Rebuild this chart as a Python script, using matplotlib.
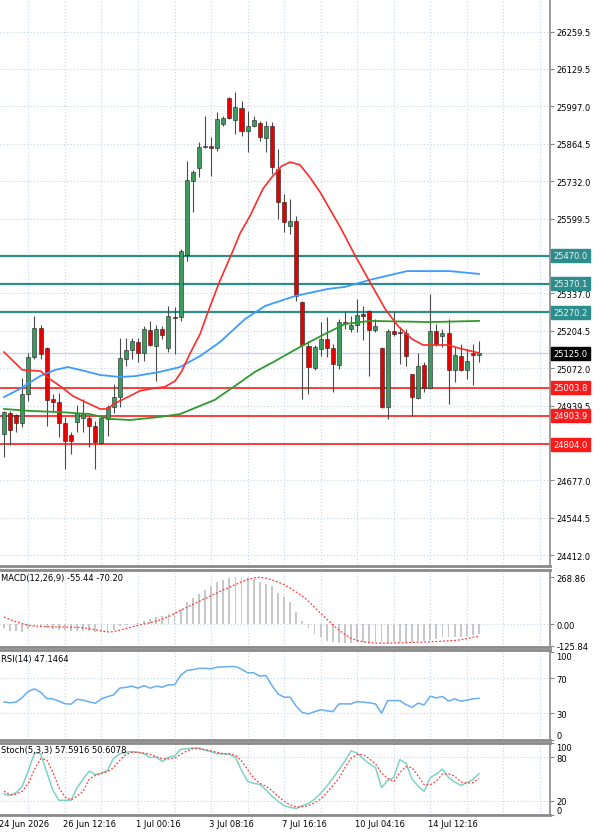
import matplotlib
matplotlib.use("Agg")
import matplotlib.pyplot as plt
import matplotlib.transforms as mtransforms
import numpy as np

# candles (4h bars)
opens = [24840, 24914, 24907, 24878, 24981, 25112, 25214, 25143, 24963, 24953,
         24878, 24836, 24882, 24896, 24896, 24868, 24808, 24893, 24935, 24970,
         25105, 25136, 25165, 25126, 25207, 25150, 25210, 25143, 25253, 25253,
         25472, 25733, 25779, 25853, 25857, 25850, 25935, 26026, 25949, 25991,
         25910, 25927, 25938, 25885, 25927, 25776, 25659, 25574, 25592, 25306,
         25150, 25073, 25140, 25175, 25143, 25083, 25235, 25210, 25225, 25263,
         25274, 25207, 25143, 24935, 25203, 25200, 25196, 25052, 24967, 25083,
         25002, 25203, 25186, 25196, 25066, 25115, 25066, 25126, 25119]
highs = [24921, 24921, 24910, 25037, 25126, 25256, 25225, 25147, 24981, 24984,
         24900, 24847, 24942, 24963, 24903, 24886, 24900, 24942, 25016, 25179,
         25179, 25179, 25179, 25221, 25239, 25225, 25221, 25292, 25288, 25493,
         25804, 25772, 25871, 25963, 25889, 25977, 25963, 26030, 26048, 26016,
         25980, 25963, 25945, 25945, 25942, 25846, 25687, 25670, 25610, 25309,
         25168, 25154, 25235, 25253, 25158, 25246, 25274, 25256, 25316, 25292,
         25278, 25246, 25147, 25210, 25271, 25218, 25210, 25053, 25126, 25094,
         25334, 25228, 25210, 25246, 25147, 25158, 25140, 25158, 25168]
lows = [24758, 24801, 24847, 24864, 24956, 25105, 25105, 24868, 24917, 24829,
        24716, 24769, 24847, 24847, 24794, 24716, 24804, 24833, 24914, 24935,
        25080, 25105, 25094, 25097, 25150, 25027, 25175, 25129, 25122, 25239,
        25451, 25624, 25747, 25850, 25751, 25839, 25927, 25952, 25899, 25892,
        25836, 25924, 25875, 25836, 25758, 25599, 25553, 25546, 25309, 24963,
        24981, 25066, 25115, 25112, 24988, 25069, 25210, 25200, 25200, 25172,
        25044, 25200, 24932, 24893, 25186, 25087, 25080, 24903, 24963, 24988,
        24999, 25150, 25147, 24946, 25023, 25062, 25034, 25013, 25094]
closes = [24917, 24854, 24878, 24981, 25112, 25214, 25122, 24960, 24953, 24878,
          24815, 24815, 24914, 24910, 24868, 24811, 24896, 24935, 24970, 25108,
          25136, 25168, 25126, 25210, 25154, 25210, 25189, 25256, 25251, 25486,
          25737, 25765, 25853, 25857, 25850, 25952, 25956, 25956, 25995, 25910,
          25927, 25949, 25889, 25927, 25783, 25659, 25588, 25592, 25327, 25154,
          25076, 25147, 25175, 25143, 25087, 25235, 25232, 25225, 25260, 25256,
          25207, 25221, 24935, 25203, 25193, 25196, 25115, 24970, 25080, 25002,
          25203, 25158, 25196, 25066, 25119, 25066, 25097, 25119, 25125]

# moving averages, sampled along the lines (bar position, price)
red_ma_x = [0, 3, 6, 7.5, 9.2, 11.3, 13, 15.8, 17, 18, 20.7, 22.3, 24.8, 26.4, 28.1,
            29.2, 30.5, 32.2, 33.5, 35.3, 37.3, 38.8, 40.4, 42.5, 44, 45.6, 47, 48.6,
            50.2, 51.9, 53.5, 55.2, 57.6, 60.1, 62.6, 64.7, 67, 68.8, 70.3, 72.9, 75.2, 78]
red_ma = [25129, 25066, 25062, 25034, 25009, 24974, 24956, 24928, 24928, 24946, 24974,
          24992, 25002, 25006, 25027, 25062, 25122, 25193, 25271, 25373, 25472, 25550,
          25610, 25705, 25747, 25786, 25800, 25790, 25747, 25694, 25634, 25571, 25472,
          25376, 25281, 25221, 25175, 25154, 25154, 25154, 25140, 25126]
blue_ma_x = [0, 2.6, 5.9, 8.4, 10.5, 12.5, 15.8, 19, 21.5, 25.6, 28.9, 32.2, 35.5, 39.6,
             42.9, 47.8, 53.2, 56, 60.1, 63.4, 66.2, 73.2, 78]
blue_ma = [24970, 24999, 25044, 25066, 25076, 25066, 25048, 25041, 25044, 25059, 25076,
           25115, 25165, 25246, 25292, 25327, 25352, 25359, 25384, 25401, 25415, 25415, 25405]
green_ma_x = [0, 4.3, 9.2, 14.1, 17.4, 20.7, 25.6, 28.9, 32.2, 34.6, 37.9, 41.2, 44.5,
              48.6, 52.7, 56, 60.1, 70, 78]
green_ma = [24928, 24921, 24917, 24910, 24893, 24889, 24900, 24910, 24939, 24960, 25009,
            25059, 25097, 25147, 25193, 25228, 25239, 25235, 25239]

# indicators, one value per bar
macd_hist = [-23, -38, -38, -44, -30, -18, -15, -22, -28, -32,
             -36, -38, -38, -40, -42, -45, -47, -42, -35, -12,
             -5, 2, 8, 20, 29, 40, 47, 57, 69, 86,
             126, 150, 172, 196, 219, 240, 253, 262, 268.86, 266,
             262, 255, 243, 229, 215, 177, 152, 125, 70, 19,
             -23, -57, -75, -95, -105, -109, -109, -109, -105, -105,
             -101, -101, -109, -109, -105, -101, -101, -101, -95, -95,
             -90, -86, -76, -76, -76, -76, -67, -63, -55.44]
macd_signal = [40, 25, 12, 2, -8, -12, -14, -15, -16, -17,
               -17, -18, -19, -22, -27, -33, -40, -45, -44, -35,
               -26, -17, -8, 0, 8, 16, 28, 42, 60, 78,
               95, 112, 128, 145, 162, 178, 195, 210, 225, 242,
               255, 263, 268, 262, 252, 240, 225, 205, 182, 160,
               130, 95, 60, 28, -5, -35, -60, -82, -95, -102,
               -107, -109, -110, -110, -109, -108, -107, -105, -104, -103,
               -102, -100, -98, -96, -94, -90, -84, -76, -70.2]
rsi = [43, 42, 43, 48, 55, 57.8, 54, 47, 46.5, 44,
       41, 40.5, 46, 45, 43, 41.6, 46.5, 49, 51, 58.6,
       59.5, 60.8, 58.6, 61.5, 58.6, 60.8, 59.7, 62.3, 62.3, 73,
       78.5, 79.5, 81, 81, 80.5, 82.4, 82.5, 83, 83, 80,
       76, 76, 72.2, 72.9, 61.5, 52.1, 48.4, 48.4, 38, 31,
       29.5, 32, 34.3, 33, 32.1, 40.8, 40.8, 40.8, 43.4, 42.7,
       42, 40.8, 30.2, 44.5, 44.5, 44.5, 40, 37, 41.6, 39.7,
       49.5, 47.6, 49.1, 43.9, 46.5, 43.9, 45, 46.5, 47.15]
stoch_k = [29, 27, 31, 40, 62, 86, 85, 60, 35, 20.5,
           20.5, 20.5, 38, 50, 61, 56, 58, 62, 79, 85,
           87, 88, 87, 85, 79.7, 80.5, 74.2, 80.5, 82, 91,
           92, 93, 93, 90, 88, 85, 85, 84.5, 80, 62,
           47, 44, 42.5, 35, 26, 19, 13, 10.5, 9, 13,
           16, 22, 30, 40, 51, 63, 75, 89, 86, 78,
           71, 66, 38, 48, 52, 77, 72, 50, 40, 33,
           52, 57, 63.7, 52, 46, 41, 45, 49, 57.59]
stoch_d = [33, 28, 29, 33, 44, 63, 78, 77, 60, 38,
           25, 21, 26, 33, 50, 55, 58, 60, 66, 76,
           84, 87, 87, 86, 84, 81, 78, 78, 79, 84,
           89, 92, 92, 91, 89, 87, 85, 85, 83, 75,
           63, 51, 44, 40, 34, 26, 19, 14, 11, 11.5,
           13, 17, 22, 31, 41, 51, 66, 79, 84, 84,
           78, 71, 58, 51, 46, 59, 67, 66, 54, 42,
           42, 47, 57, 57, 54, 46, 44, 45, 50.61]

price_ticks = [26259.5, 26129.5, 25997.0, 25864.5, 25732.0, 25599.5, 25337.0,
               25204.5, 25072.0, 24939.5, 24677.0, 24544.5, 24412.0]
teal_levels = [25470.0, 25370.1, 25270.2]
red_levels = [25003.8, 24903.9, 24804.0]
last_price = 25125.0
date_pos = [-0.6, 10, 22, 34, 46, 58, 70]
date_labels = ["24 Jun 2026", "26 Jun 12:16", "1 Jul 00:16", "3 Jul 08:16",
               "7 Jul 16:16", "10 Jul 04:16", "14 Jul 12:16"]

GRID = "#c4d4e8"
DOT = (0, (1, 2))
TEAL = "#2d8c8c"
SEP = "#8a8a8a"
FS = 6

W, H = 600, 837
fig = plt.figure(figsize=(6, 8.37), dpi=100)
fig.patch.set_facecolor("white")


def panel(top, bottom):
    a = fig.add_axes([0, 1 - bottom / H, 550 / W, (bottom - top) / H])
    a.set_xlim(-0.66, 89.66)
    a.set_xticks([])
    for k in range(4, 90, 6):
        a.axvline(k, color=GRID, lw=0.8, ls=DOT, zorder=0)
    a.spines["left"].set_visible(False)
    a.spines["right"].set_color(SEP)
    a.spines["right"].set_linewidth(1.2)
    for s in ("top", "bottom"):
        a.spines[s].set_color(SEP)
        a.spines[s].set_linewidth(2)
    a.yaxis.tick_right()
    a.tick_params(axis="y", labelsize=FS, length=3, pad=1.5, color=SEP)
    return a


ax = panel(0, 567)
ax.spines["top"].set_visible(False)
ax_macd = panel(571, 648)
ax_rsi = panel(651, 741)
ax_st = panel(744, 816)

# ---- price panel
ax.set_ylim(24373.4, 26376)
ax.set_yticks(price_ticks)
ax.set_yticklabels([f"{t:.1f}" for t in price_ticks])
for t in price_ticks + [25467.0, 24807.0]:
    ax.axhline(t, color=GRID, lw=0.8, ls=DOT, zorder=0)
ax.axhline(last_price, color="#c9d5e6", lw=1.0, zorder=1)

trans = mtransforms.blended_transform_factory(ax.transAxes, ax.transData)
for v in teal_levels:
    ax.axhline(v, color=TEAL, lw=1.6, zorder=2)
    ax.text(1.006, v, f"{v:.1f}", transform=trans, fontsize=FS, color="#eaf6f6",
            va="center", ha="left", clip_on=False, zorder=10,
            bbox=dict(boxstyle="square,pad=0.25", fc=TEAL, ec=TEAL))
for v in red_levels:
    ax.axhline(v, color="#ff1a1a", lw=1.2, zorder=2)
    ax.text(1.006, v, f"{v:.1f}", transform=trans, fontsize=FS, color="white",
            va="center", ha="left", clip_on=False, zorder=10,
            bbox=dict(boxstyle="square,pad=0.25", fc="#ff1a1a", ec="#ff1a1a"))
ax.text(1.006, last_price, f"{last_price:.1f}", transform=trans, fontsize=FS,
        color="white", va="center", ha="left", clip_on=False, zorder=10,
        bbox=dict(boxstyle="square,pad=0.25", fc="black", ec="black"))

idx = np.arange(len(opens))
o = np.array(opens, dtype=float)
c = np.array(closes, dtype=float)
colors = np.where(c >= o, "#3c9a5f", "#e60000")
ax.vlines(idx, lows, highs, color="#4a4a4a", lw=0.8, zorder=3)
ax.bar(idx, np.maximum(np.abs(c - o), 3), bottom=np.minimum(o, c), width=0.66,
       color=colors, edgecolor="#222222", lw=0.4, zorder=4)

ax.plot(green_ma_x, green_ma, color="#2e9a2e", lw=1.3, zorder=5)
ax.plot(blue_ma_x, blue_ma, color="#3b9cff", lw=1.3, zorder=5)
ax.plot(red_ma_x, red_ma, color="#ff2a2a", lw=1.2, zorder=5)

# ---- MACD
ax_macd.set_ylim(-131.6, 309)
ax_macd.axhline(0, color=GRID, lw=0.8, ls=DOT, zorder=0)
ax_macd.bar(idx, macd_hist, width=0.3, color="#c8c8c8", zorder=2)
ax_macd.plot(idx, macd_signal, color="#ff3b3b", lw=0.9, ls=(0, (1.5, 1.5)), zorder=3)
ax_macd.set_yticks([268.86, 0, -125.84])
ax_macd.set_yticklabels(["268.86", "0.00", "-125.84"])

# ---- RSI
ax_rsi.set_ylim(0, 101.7)
for lv in (70, 30):
    ax_rsi.axhline(lv, color=GRID, lw=0.8, ls=DOT, zorder=0)
ax_rsi.plot(idx, rsi, color="#67adf5", lw=1.1, zorder=3)
ax_rsi.set_yticks([100, 70, 30, 0])
ax_rsi.set_yticklabels(["100", "70", "30", "0"])

# ---- Stochastic
ax_st.set_ylim(0, 100)
for lv in (80, 20):
    ax_st.axhline(lv, color=GRID, lw=0.8, ls=DOT, zorder=0)
ax_st.plot(idx, stoch_k, color="#7dd3c6", lw=1.1, zorder=3)
ax_st.plot(idx, stoch_d, color="#ff3b3b", lw=0.9, ls=(0, (1.5, 1.5)), zorder=4)
ax_st.set_yticks([100, 80, 20, 0])
ax_st.set_yticklabels(["100", "80", "20", "0"])

for a in (ax_rsi, ax_st):
    labs = a.get_yticklabels()
    labs[0].set_va("top")
    labs[-1].set_va("bottom")

fig.text(1 / W, 1 - 579 / H, "MACD(12,26,9) -55.44 -70.20", fontsize=FS, va="center")
fig.text(1 / W, 1 - 660 / H, "RSI(14) 47.1464", fontsize=FS, va="center")
fig.text(1 / W, 1 - 751 / H, "Stoch(5,3,3) 57.5916 50.6078", fontsize=FS, va="center")

dtrans = mtransforms.blended_transform_factory(ax_st.transData, ax_st.transAxes)
for p, lab in zip(date_pos, date_labels):
    ax_st.text(p - 0.3, -0.125, lab, transform=dtrans, ha="left", va="center",
               fontsize=FS, clip_on=False)

fig.savefig("out.png", dpi=100, facecolor="white")
